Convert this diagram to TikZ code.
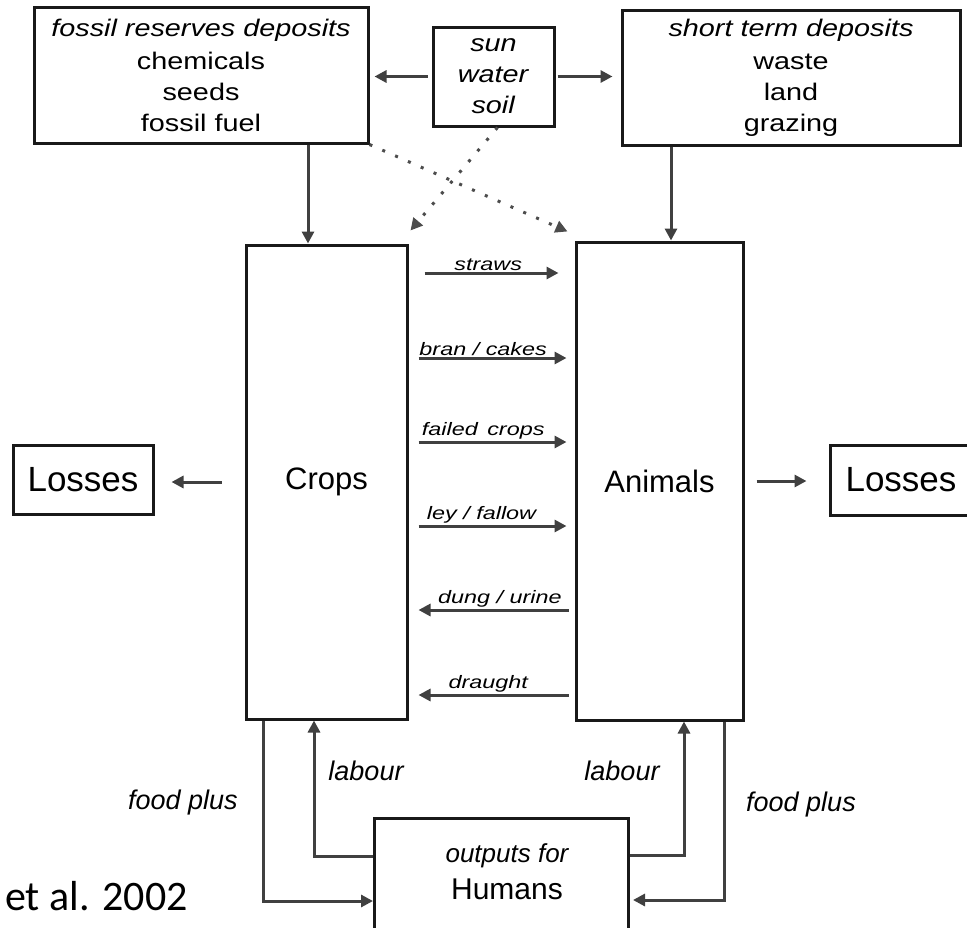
\documentclass[tikz,border=0pt]{standalone}
\usepackage{fontspec}
\setmainfont{Liberation Sans}
\newfontfamily\boxfont{Liberation Sans}[FakeStretch=1.2]
\newfontfamily\lblfont{Liberation Sans}[FakeStretch=1.3]
\newfontfamily\etalfont{Carlito}
\usetikzlibrary{arrows.meta}
\begin{document}
\begin{tikzpicture}[x=1pt,y=-1pt,
  box/.style={draw=black!90, line width=3pt, inner sep=0pt, align=center},
  topbox/.style={box, font=\boxfont\fontsize{24pt}{31pt}\selectfont},
  bigtxt/.style={font=\fontsize{31pt}{36pt}\selectfont},
  arr/.style={draw=black!75, line width=3pt, -{Triangle[length=12pt,width=12pt]}},
  dots/.style={draw=black!70, line width=3pt, dash pattern=on 3pt off 11pt, -{Triangle[length=12pt,width=12pt]}},
  flow/.style={font=\lblfont\itshape\fontsize{18pt}{20pt}\selectfont, inner sep=1pt},
  side/.style={font=\itshape\fontsize{27pt}{30pt}\selectfont, inner sep=0pt}]
\clip (0,0) rectangle (967,927);
\fill[white] (0,0) rectangle (967,927);
% top boxes
\node[topbox, minimum width=334pt, minimum height=136pt] (fossil) at (201,75)
  {\textit{fossil reserves deposits}\\[2pt] chemicals\\ seeds\\ fossil fuel};
\node[topbox, minimum width=121pt, minimum height=99pt] (sun) at (493.5,76.5)
  {\textit{sun}\\ \textit{water}\\ \textit{soil}};
\node[topbox, minimum width=338pt, minimum height=135pt] (short) at (791,77.5)
  {\textit{short term deposits}\\[2pt] waste\\ land\\ grazing};
% main boxes
\node[box, bigtxt, minimum width=161pt, minimum height=474pt] (crops) at (326.5,482) {Crops};
\node[box, bigtxt, minimum width=167pt, minimum height=478pt] (animals) at (659.5,481) {Animals};
\node[box, font=\fontsize{35pt}{40pt}\selectfont, minimum width=140pt, minimum height=69pt] (lossL) at (83,479.5) {Losses};
\node[box, font=\fontsize{35pt}{40pt}\selectfont, minimum width=142pt, minimum height=70pt] (lossR) at (901,480) {Losses};
\node[box, minimum width=254pt, minimum height=124pt] (hum) at (501.5,880) {};
\node[align=center, inner sep=0pt] (humtxt) at (507,872)
  {{\itshape\fontsize{26pt}{30pt}\selectfont outputs for}\\[10pt]{\fontsize{30pt}{34pt}\selectfont Humans}};
% top arrows
\draw[arr, shorten <=4pt, shorten >=5pt] (sun.west) -- (fossil.east |- sun.west);
\draw[arr, shorten <=2pt, shorten >=8pt] (sun.east) -- (short.west |- sun.east);
\coordinate (fc) at ([xshift=-18.5pt]crops.north);
\coordinate (sa) at ([xshift=11.5pt]animals.north);
\draw[arr] (fc |- fossil.south) -- (fc);
\draw[arr] (sa |- short.south) -- (sa);
\draw[dots] (fossil.south east) -- ([xshift=-7pt,yshift=9pt]animals.north west);
\draw[dots] ([xshift=4pt]sun.south) -- ([xshift=2pt,yshift=13pt]crops.north east);
% flows between crops and animals
\draw[arr, shorten <=16pt, shorten >=16pt] (crops.east |- 0,273) -- node[flow, above, pos=0.48] (l1) {straws} (animals.west |- 0,273);
\draw[arr, shorten <=10pt, shorten >=8pt] (crops.east |- 0,358) -- node[flow, above, pos=0.45] (l2) {bran / cakes} (animals.west |- 0,358);
\draw[arr, shorten <=10pt, shorten >=8pt] (crops.east |- 0,442) -- node[flow, above, pos=0.45] (l3) {failed\, crops} (animals.west |- 0,442);
\draw[arr, shorten <=10pt, shorten >=8pt] (crops.east |- 0,526) -- node[flow, above, pos=0.44] (l4) {ley / fallow} (animals.west |- 0,526);
\draw[arr, shorten <=6pt, shorten >=10pt] (animals.west |- 0,610) -- node[flow, above, pos=0.45] (l5) {dung / urine} (crops.east |- 0,610);
\draw[arr, shorten <=6pt, shorten >=10pt] (animals.west |- 0,695) -- node[flow, above, pos=0.52] (l6) {draught} (crops.east |- 0,695);
% losses
\draw[arr, shorten <=23pt, shorten >=17pt] (crops.west) -- (lossL.east |- crops.west);
\draw[arr, shorten <=12pt, shorten >=22pt] (animals.east) -- (lossR.west |- animals.east);
% bottom loops
\draw[arr] (hum.west |- 0,856) -| ([xshift=-12.5pt]crops.south);
\draw[arr] (hum.east |- 0,855) -| ([xshift=24.5pt]animals.south);
\draw[arr] ([xshift=-63.5pt]crops.south) |- (hum.west |- 0,901);
\draw[arr, shorten >=3pt] ([xshift=64.5pt]animals.south) |- (hum.east |- 0,900);
\node[side] (lab1) at (366,771) {labour};
\node[side] (lab2) at (622,771) {labour};
\node[side] (fp1) at (183,803) {food plus};
\node[side] (fp2) at (801,805) {food plus};
\node[anchor=base west, inner sep=0pt, font=\etalfont\fontsize{42pt}{46pt}\selectfont] (etal) at (5,910) {et al. 2002};
\end{tikzpicture}
\end{document}
